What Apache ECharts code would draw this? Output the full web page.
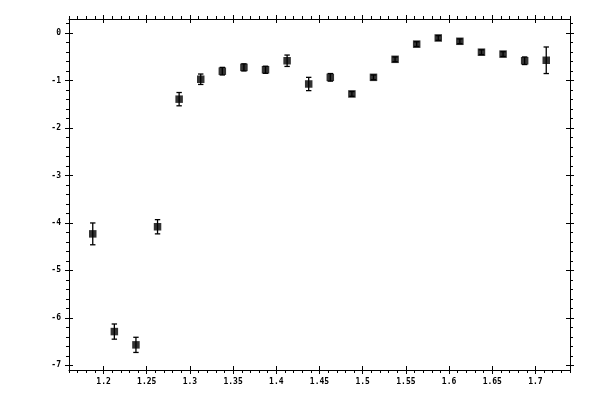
<!DOCTYPE html>
<html><head><meta charset="utf-8">
<script src="https://cdn.jsdelivr.net/npm/echarts@6/dist/echarts.min.js"></script>
<style>html,body{margin:0;padding:0;background:#fff}#c{width:600px;height:400px}</style>
</head><body><div id="c"></div>
<script>
var xValues = [1.1875,1.2125,1.2375,1.2625,1.2875,1.3125,1.3375,1.3625,1.3875,1.4125,1.4375,1.4625,1.4875,1.5125,1.5375,1.5625,1.5875,1.6125,1.6375,1.6625,1.6875,1.7125];
var yValues = [-4.23,-6.29,-6.57,-4.08,-1.39,-0.97,-0.80,-0.72,-0.77,-0.58,-1.07,-0.93,-1.28,-0.93,-0.55,-0.23,-0.10,-0.17,-0.40,-0.44,-0.58,-0.57];
var yErrors = [0.23,0.16,0.16,0.15,0.14,0.11,0.08,0.075,0.075,0.12,0.14,0.08,0.05,0.05,0.05,0.05,0.05,0.05,0.05,0.05,0.08,0.28];
var xMajorTicks = [1.2,1.25,1.3,1.35,1.4,1.45,1.5,1.55,1.6,1.65,1.7];
var yMajorTicks = [-7,-6,-5,-4,-3,-2,-1,0];

var X_MIN = 1.16, X_MAX = 1.74, Y_MIN = -7.1, Y_MAX = 0.3;
function r(v){return Math.round(v*1000)/1000;}
var xMinor = [];
for (var k = 116; k <= 174; k++) { if (k % 5 !== 0) xMinor.push(r(k/100)); }
var yMinor = [];
for (var m = -35; m <= 1; m++) { if (m % 5 !== 0) yMinor.push(r(m/5)); }

var points = xValues.map(function(x,i){return [x, yValues[i], yErrors[i]];});
var font = {color:'#000', fontFamily:'DejaVu Sans Mono', fontSize:8, fontWeight:'bold'};
var lineStyle = {color:'#000', width:1};

function xAx(pos, opts){
  return Object.assign({type:'value', position:pos, min:X_MIN, max:X_MAX,
    axisLine:{show:false, onZero:false, lineStyle:lineStyle}, splitLine:{show:false},
    axisLabel:{show:false}, axisTick:{show:false}}, opts);
}
function yAx(pos, opts){
  return Object.assign({type:'value', position:pos, min:Y_MIN, max:Y_MAX,
    axisLine:{show:false, onZero:false, lineStyle:lineStyle}, splitLine:{show:false},
    axisLabel:{show:false}, axisTick:{show:false}}, opts);
}
var xAxes = [
  xAx('bottom', {axisLine:{show:true, onZero:false, lineStyle:lineStyle},
     axisTick:{show:true, inside:false, length:4, lineStyle:lineStyle, customValues:xMajorTicks},
     axisLabel:Object.assign({show:true, margin:8, customValues:xMajorTicks, formatter:function(v){return String(r(v));}}, font)}),
  xAx('bottom', {axisTick:{show:true, inside:false, length:3, lineStyle:lineStyle, customValues:xMinor}}),
  xAx('bottom', {axisTick:{show:true, inside:true, length:4, lineStyle:lineStyle, customValues:xMajorTicks}}),
  xAx('top', {axisLine:{show:true, onZero:false, lineStyle:lineStyle},
     axisTick:{show:true, inside:false, length:4, lineStyle:lineStyle, customValues:xMajorTicks}}),
  xAx('top', {axisTick:{show:true, inside:false, length:3, lineStyle:lineStyle, customValues:xMinor}}),
  xAx('top', {axisTick:{show:true, inside:true, length:4, lineStyle:lineStyle, customValues:xMajorTicks}})
];
var yAxes = [
  yAx('left', {axisLine:{show:true, onZero:false, lineStyle:lineStyle},
     axisTick:{show:true, inside:false, length:4, lineStyle:lineStyle, customValues:yMajorTicks},
     axisLabel:Object.assign({show:true, margin:8, customValues:yMajorTicks, formatter:function(v){return String(Math.round(v));}}, font)}),
  yAx('left', {axisTick:{show:true, inside:false, length:3, lineStyle:lineStyle, customValues:yMinor}}),
  yAx('left', {axisTick:{show:true, inside:true, length:4, lineStyle:lineStyle, customValues:yMajorTicks}}),
  yAx('right', {axisLine:{show:true, onZero:false, lineStyle:lineStyle},
     axisTick:{show:true, inside:false, length:4, lineStyle:lineStyle, customValues:yMajorTicks}}),
  yAx('right', {axisTick:{show:true, inside:false, length:3, lineStyle:lineStyle, customValues:yMinor}}),
  yAx('right', {axisTick:{show:true, inside:true, length:4, lineStyle:lineStyle, customValues:yMajorTicks}})
];

var chart = echarts.init(document.getElementById('c'), null, {renderer:'canvas'});
chart.setOption({
  animation:false,
  backgroundColor:'#fff',
  grid:{left:69, top:19, right:30, bottom:30, containLabel:false},
  xAxis:xAxes,
  yAxis:yAxes,
  series:[
    {type:'custom', xAxisIndex:0, yAxisIndex:0, data:points, z:2,
     renderItem:function(params, api){
       var x = api.value(0), y = api.value(1), e = api.value(2);
       var top = api.coord([x, y + e]), bot = api.coord([x, y - e]);
       var cw = 2.7;
       var st = {stroke:'#000', lineWidth:1.3, fill:null};
       return {type:'group', children:[
         {type:'line', shape:{x1:top[0], y1:top[1], x2:bot[0], y2:bot[1]}, style:st},
         {type:'line', shape:{x1:top[0]-cw, y1:top[1], x2:top[0]+cw, y2:top[1]}, style:st},
         {type:'line', shape:{x1:bot[0]-cw, y1:bot[1], x2:bot[0]+cw, y2:bot[1]}, style:st}
       ]};
     }},
    {type:'scatter', xAxisIndex:0, yAxisIndex:0, data:points, symbol:'rect', symbolSize:7.5,
     itemStyle:{color:'#000'}, z:3}
  ]
});
</script></body></html>
